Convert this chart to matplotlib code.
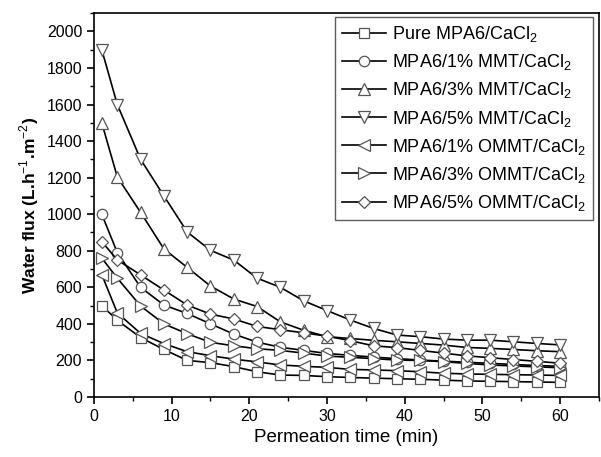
import numpy as np
import matplotlib.pyplot as plt

plt.rcParams['font.family'] = ['Liberation Sans', 'DejaVu Sans']
plt.rcParams['mathtext.fontset'] = 'custom'
plt.rcParams['mathtext.rm'] = 'Liberation Sans'

# permeation time (min)
t = [1, 3, 6, 9, 12, 15, 18, 21, 24, 27, 30, 33, 36, 39, 42, 45, 48, 51, 54, 57, 60]

pure = [500, 420, 325, 260, 200, 188, 166, 138, 120, 118, 111, 107, 103, 100, 97, 92, 88, 86, 84, 82, 80]
mmt1 = [1000, 790, 600, 503, 457, 400, 344, 300, 272, 255, 238, 228, 218, 210, 202, 196, 190, 184, 178, 172, 168]
mmt3 = [1500, 1204, 1010, 810, 709, 607, 536, 495, 411, 365, 330, 320, 310, 302, 293, 284, 271, 266, 260, 253, 248]
mmt5 = [1900, 1600, 1300, 1100, 903, 802, 749, 650, 600, 526, 473, 421, 375, 339, 330, 317, 311, 311, 302, 293, 285]
ommt1 = [670, 460, 348, 292, 248, 226, 207, 192, 175, 168, 162, 151, 148, 144, 138, 130, 126, 124, 122, 120, 118]
ommt3 = [760, 650, 498, 400, 346, 299, 280, 264, 255, 240, 224, 217, 210, 202, 200, 193, 184, 175, 170, 165, 160]
ommt5 = [850, 750, 668, 585, 503, 453, 427, 386, 368, 351, 333, 308, 280, 270, 255, 240, 225, 215, 205, 195, 185]

labels = [r'Pure MPA6/CaCl$_2$', r'MPA6/1% MMT/CaCl$_2$', r'MPA6/3% MMT/CaCl$_2$',
          r'MPA6/5% MMT/CaCl$_2$', r'MPA6/1% OMMT/CaCl$_2$', r'MPA6/3% OMMT/CaCl$_2$',
          r'MPA6/5% OMMT/CaCl$_2$']
series = [pure, mmt1, mmt3, mmt5, ommt1, ommt3, ommt5]
markers = ['s', 'o', '^', 'v', '<', '>', 'D']
msizes = [6.5, 7.5, 8.5, 8.5, 8.5, 8.5, 6.5]

fig = plt.figure(figsize=(6.01, 4.57), dpi=100)
ax = fig.add_axes([0.1564, 0.1313, 0.840, 0.840])

for y, m, ms, lab in zip(series, markers, msizes, labels):
    ax.plot(t, y, color='black', lw=1.2, marker=m, ms=ms, mfc='white',
            mec='#555555', mew=0.9, label=lab)

ax.set_xlim(0, 65)
ax.set_ylim(0, 2100)
ax.set_xticks(range(0, 61, 10))
ax.set_xticks(range(0, 66, 5), minor=True)
ax.set_yticks(range(0, 2001, 200))
ax.set_yticks(range(0, 2101, 100), minor=True)
ax.tick_params(which='major', direction='out', length=5, width=1.2, labelsize=11.5)
ax.tick_params(which='minor', direction='out', length=3, width=1.0)
for s in ax.spines.values():
    s.set_linewidth(1.2)

ax.set_xlabel('Permeation time (min)', fontsize=13.5)
ax.set_ylabel(r'Water flux (L.h$^{-1}$.m$^{-2}$)', fontsize=12.5, fontweight='bold')

leg = ax.legend(loc='upper right', bbox_to_anchor=(0.988, 0.99), borderaxespad=0,
                fontsize=13, frameon=True, fancybox=False, edgecolor='#333333',
                handlelength=2.4, labelspacing=0.45, borderpad=0.4, handletextpad=0.35)
leg.get_frame().set_linewidth(1.0)

fig.savefig('out.png', dpi=100)
